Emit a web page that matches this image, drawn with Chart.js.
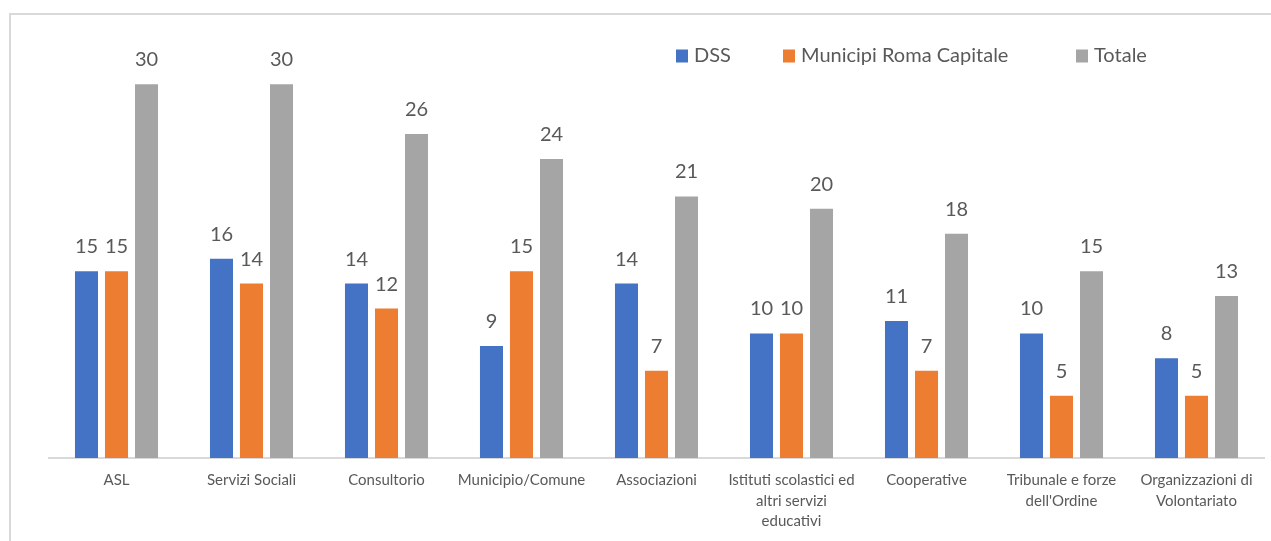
<!DOCTYPE html>
<html>
<head>
<meta charset="utf-8">
<script src="https://cdn.jsdelivr.net/npm/chart.js@4.4.1/dist/chart.umd.min.js"></script>
<style>
  html, body { margin: 0; padding: 0; background: #ffffff; }
  #wrap { position: relative; width: 1271px; height: 541px; }
</style>
</head>
<body>
<div id="wrap"><canvas id="c" width="1271" height="541"></canvas></div>
<script>
const categories = [
  "ASL",
  "Servizi Sociali",
  "Consultorio",
  "Municipio/Comune",
  "Associazioni",
  ["Istituti scolastici ed", "altri servizi", "educativi"],
  "Cooperative",
  ["Tribunale e forze", "dell'Ordine"],
  ["Organizzazioni di", "Volontariato"]
];
const seriesNames = ["DSS", "Municipi Roma Capitale", "Totale"];
const dssValues = [15, 16, 14, 9, 14, 10, 11, 10, 8];
const municipiValues = [15, 14, 12, 15, 7, 10, 7, 5, 5];
const totaleValues = [30, 30, 26, 24, 21, 20, 18, 15, 13];
const seriesColors = ["#4472C4", "#ED7D31", "#A5A5A5"];

const FONT = "Lato, 'Open Sans', sans-serif";
const TEXT_COLOR = "#595959";
const legendX = [676, 783, 1076];

const frame = {
  id: "frame",
  beforeDraw(chart) {
    const ctx = chart.ctx;
    ctx.save();
    ctx.strokeStyle = "#D9D9D9";
    ctx.lineWidth = 2;
    ctx.beginPath();
    ctx.moveTo(10, 541);
    ctx.lineTo(10, 14);
    ctx.lineTo(1271, 14);
    ctx.stroke();
    ctx.restore();
  }
};

const valueLabels = {
  id: "valueLabels",
  afterDatasetsDraw(chart) {
    const ctx = chart.ctx;
    ctx.save();
    ctx.font = "20px " + FONT;
    ctx.fillStyle = TEXT_COLOR;
    ctx.textAlign = "center";
    ctx.textBaseline = "alphabetic";
    chart.data.datasets.forEach((ds, i) => {
      const meta = chart.getDatasetMeta(i);
      meta.data.forEach((bar, j) => {
        ctx.fillText(String(ds.data[j]), bar.x, bar.y - 18);
      });
    });
    ctx.restore();
  }
};

const customLegend = {
  id: "customLegend",
  afterDraw(chart) {
    const ctx = chart.ctx;
    ctx.save();
    ctx.font = "20px " + FONT;
    ctx.textBaseline = "middle";
    ctx.textAlign = "left";
    const y = 56;
    chart.data.datasets.forEach((ds, i) => {
      const x = legendX[i];
      ctx.fillStyle = ds.backgroundColor;
      ctx.fillRect(x, y - 6.5, 12, 13);
      ctx.fillStyle = TEXT_COLOR;
      ctx.fillText(ds.label, x + 18, y);
    });
    ctx.restore();
  }
};

const dataArrays = [dssValues, municipiValues, totaleValues];

new Chart(document.getElementById("c"), {
  type: "bar",
  data: {
    labels: categories,
    datasets: seriesNames.map((name, i) => ({
      label: name,
      data: dataArrays[i],
      backgroundColor: seriesColors[i],
      borderWidth: 0,
      categoryPercentage: 0.667,
      barPercentage: 0.767
    }))
  },
  options: {
    responsive: false,
    animation: false,
    devicePixelRatio: 1,
    layout: { padding: { left: 49, right: 7, top: 22, bottom: 0 } },
    plugins: {
      legend: { display: false },
      tooltip: { enabled: false },
      title: { display: false }
    },
    scales: {
      x: {
        grid: { display: false, drawTicks: false },
        border: { display: true, color: "#D9D9D9", width: 2 },
        ticks: {
          color: TEXT_COLOR,
          font: { family: FONT, size: 15, lineHeight: 1.37 },
          padding: 12,
          maxRotation: 0,
          autoSkip: false
        },
        afterFit(scale) { scale.height = 83; }
      },
      y: {
        display: false,
        min: 0,
        max: 35
      }
    }
  },
  plugins: [frame, valueLabels, customLegend]
});
</script>
</body>
</html>
